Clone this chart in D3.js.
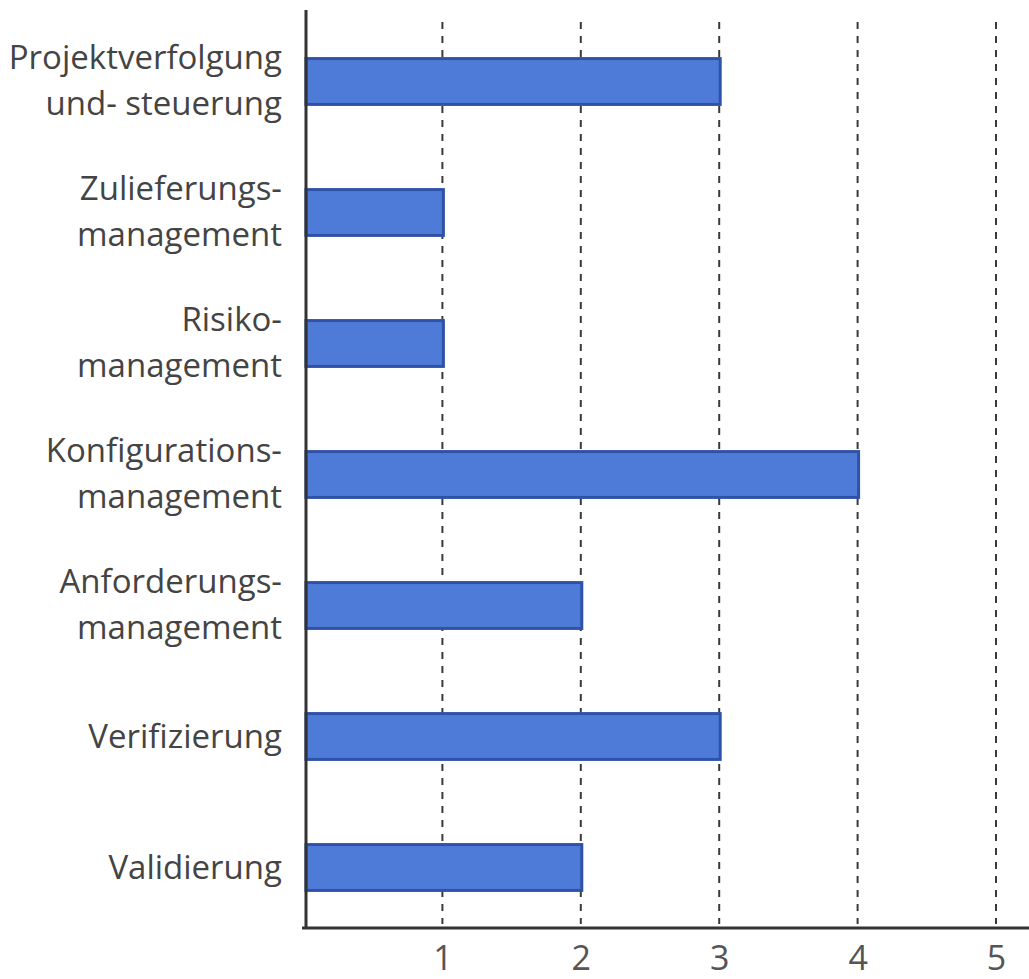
<!DOCTYPE html>
<html><head><meta charset="utf-8">
<script src="https://cdn.jsdelivr.net/npm/d3@7"></script>
<style>body{margin:0;background:#fff}</style>
</head><body>
<svg id="c" width="1029" height="979"></svg>
<script>
const categories = [
  ["Projektverfolgung","und- steuerung"],
  ["Zulieferungs-","management"],
  ["Risiko-","management"],
  ["Konfigurations-","management"],
  ["Anforderungs-","management"],
  ["Verifizierung"],
  ["Validierung"]
];
const values = [3, 1, 1, 4, 2, 3, 2];
const tickValues = [1, 2, 3, 4, 5];

const svg = d3.select("#c");
const x0 = 304, yTop = 10, yBase = 928;
const x = d3.scaleLinear().domain([0, 5]).range([x0, x0 + 5 * 138.4]);
const y = d3.scaleBand().domain(d3.range(categories.length)).range([16, 933])
  .paddingInner(0.65).paddingOuter(0.325);

// gridlines
svg.append("g").selectAll("line").data(tickValues).join("line")
  .attr("x1", d => x(d)).attr("x2", d => x(d))
  .attr("y1", yTop + 12).attr("y2", yBase - 4)
  .attr("stroke", "#3a3a3a").attr("stroke-width", 2)
  .attr("stroke-dasharray", "7,7");

// bars
svg.append("g").selectAll("rect").data(values).join("rect")
  .attr("x", x(0) + 2).attr("y", (d, i) => y(i))
  .attr("width", d => x(d) - x(0) - 1).attr("height", y.bandwidth())
  .attr("fill", "#4f7bd8").attr("stroke", "#2d52a8").attr("stroke-width", 3);

// axes lines
svg.append("line").attr("x1", x0 + 2).attr("x2", x0 + 2).attr("y1", yTop).attr("y2", yBase)
  .attr("stroke", "#333").attr("stroke-width", 3);
svg.append("line").attr("x1", x0 - 2).attr("x2", 1029).attr("y1", yBase).attr("y2", yBase)
  .attr("stroke", "#333").attr("stroke-width", 3);

// x tick labels
const xAxis = d3.axisBottom(x).tickValues(tickValues).tickFormat(d3.format("d"))
  .tickSize(0).tickPadding(18);
const gx = svg.append("g").attr("transform", `translate(0,${yBase})`).call(xAxis);
gx.select(".domain").remove();
gx.selectAll("text").attr("font-family", "'Open Sans', sans-serif").attr("font-size", 34)
  .attr("fill", "#555");

// category labels
const lab = svg.append("g").attr("font-family", "'Open Sans', sans-serif")
  .attr("font-size", 33).attr("fill", "#444").attr("text-anchor", "end");
categories.forEach((lines, i) => {
  const cy = y(i) + y.bandwidth() / 2;
  const n = lines.length;
  lines.forEach((t, j) => {
    const off = n === 1 ? 0 : (j === 0 ? -24 : 22);
    lab.append("text").attr("x", 282).attr("y", cy + off).attr("dy", "0.35em").text(t);
  });
});
</script>
</body></html>
